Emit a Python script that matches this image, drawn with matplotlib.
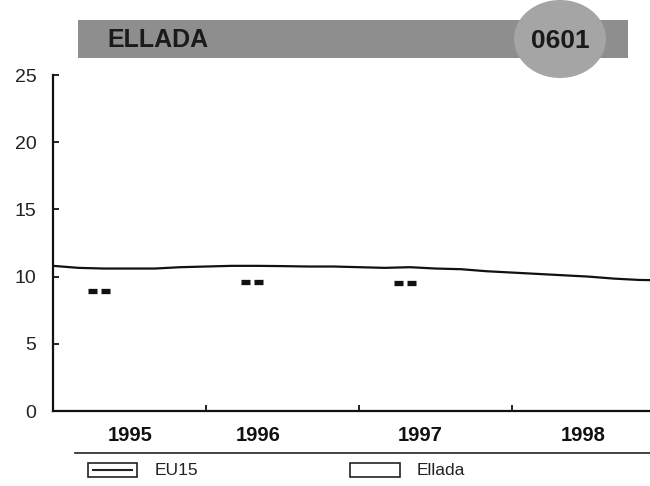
import numpy as np
import matplotlib.pyplot as plt
from matplotlib.patches import Rectangle, Ellipse

plt.rcParams['font.family'] = ['Liberation Sans', 'DejaVu Sans']

# EU15 line, every second month from Jan 1995 (last one runs off the right edge)
months = np.append(np.arange(0, 47, 2), 48)
eu15 = [10.8, 10.65, 10.6, 10.6, 10.6, 10.7, 10.75, 10.8, 10.8, 10.78, 10.75, 10.75,
        10.7, 10.65, 10.7, 10.6, 10.55, 10.4, 10.3, 10.2, 10.1, 10.0, 9.85, 9.75, 9.72]
# Ellada, one value per year
ellada_x = [1995.3, 1996.3, 1997.3]
ellada = [8.9, 9.6, 9.55]
years = ['1995', '1996', '1997', '1998']
year_px = [130, 258, 420, 583]
yticks = [0, 5, 10, 15, 20, 25]

fig = plt.figure(figsize=(6.5, 4.86), dpi=100)
fig.patch.set_facecolor('white')

# pixel-space layer for header and legend
bg = fig.add_axes([0, 0, 1, 1])
bg.set_xlim(0, 650)
bg.set_ylim(486, 0)
bg.axis('off')
bg.add_patch(Rectangle((78, 20), 550, 38, facecolor='#8e8e8e', edgecolor='none'))
bg.add_patch(Ellipse((560, 39), 92, 78, facecolor='#a5a5a5', edgecolor='none'))
bg.text(107, 40, 'ELLADA', fontsize=18, fontweight='bold', color='#1a1a1a', va='center')
bg.text(560, 41, '0601', fontsize=19, fontweight='bold', color='#1a1a1a', va='center', ha='center')

for x, lab in zip(year_px, years):
    bg.text(x, 435, lab, fontsize=14.5, fontweight='bold', ha='center', va='center', color='#111111')

bg.plot([75, 650], [453, 453], color='#222222', lw=1.2)
bg.add_patch(Rectangle((88, 463), 49, 14, facecolor='white', edgecolor='#222222', lw=1.2))
bg.plot([93, 132], [470, 470], color='#222222', lw=1.5)
bg.text(155, 470, 'EU15', fontsize=12.5, va='center', color='#222222')
bg.add_patch(Rectangle((350, 463), 50, 14, facecolor='white', edgecolor='#222222', lw=1.2))
bg.text(417, 470, 'Ellada', fontsize=12.5, va='center', color='#222222')

ax = fig.add_axes([53 / 650, 1 - 411 / 486, 597 / 650, 336 / 486])
ax.set_facecolor('none')
ax.plot(1995 + months / 12, eu15, color='#111111', lw=1.6)

# each Ellada value shown as a pair of short thick dashes
half, gap = 0.07, 0.011
for x, y in zip(ellada_x, ellada):
    ax.plot([x - half, x - gap], [y, y], color='#111111', lw=3.8, solid_capstyle='butt')
    ax.plot([x + gap, x + half], [y, y], color='#111111', lw=3.8, solid_capstyle='butt')

ax.set_xlim(1995, 1995 + 597 / 153)
ax.set_ylim(0, 25)
ax.set_yticks(yticks)
ax.set_xticks([1996, 1997, 1998])
ax.set_xticklabels([])
ax.tick_params(axis='both', direction='in', length=4, width=1.3, color='#111111')
ax.tick_params(axis='y', labelsize=14, pad=12, labelcolor='#222222')
for s in ['top', 'right']:
    ax.spines[s].set_visible(False)
for s in ['left', 'bottom']:
    ax.spines[s].set_linewidth(1.6)
    ax.spines[s].set_color('#111111')

fig.savefig('out.png', dpi=100)
